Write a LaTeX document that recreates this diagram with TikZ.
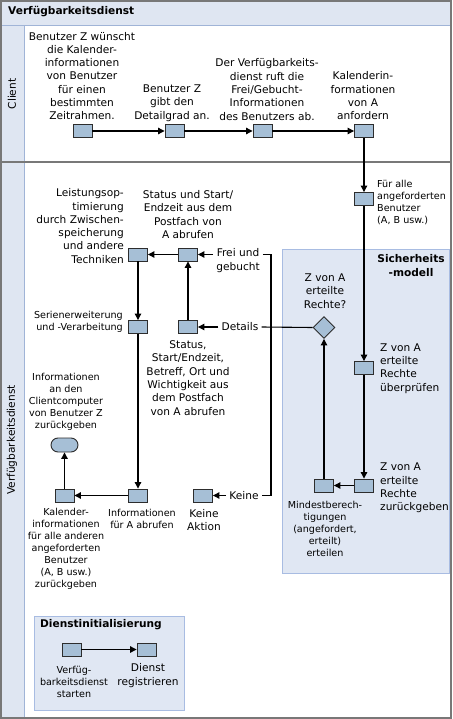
\documentclass[tikz,border=0pt]{standalone}
\usepackage{fontspec}
\setmainfont{DejaVu Sans}
\usetikzlibrary{arrows.meta,shapes.geometric}
\definecolor{lanefill}{RGB}{223,230,242}
\definecolor{lanerule}{RGB}{160,180,215}
\definecolor{framegray}{RGB}{120,120,120}
\definecolor{contfill}{RGB}{224,231,243}
\definecolor{contborder}{RGB}{168,188,226}
\definecolor{boxfill}{RGB}{166,191,214}
\definecolor{boxline}{RGB}{45,45,45}
\tikzset{
  big/.style={font=\fontsize{10.6}{13.3}\selectfont, inner sep=0pt},
  small/.style={font=\fontsize{9.6}{12}\selectfont, inner sep=0pt},
  lab/.style={big, inner xsep=3pt, inner ysep=0pt},
  act/.style={draw=boxline, fill=boxfill, line width=0.9pt, minimum width=19pt, minimum height=13pt, inner sep=0pt},
  flow/.style={line width=1.1pt, -{Triangle[length=6.5pt,width=6.5pt]}},
  plain/.style={line width=1.1pt},
  cont/.style={draw=contborder, fill=contfill, line width=0.8pt},
}
\begin{document}
\begin{tikzpicture}[x=1pt,y=-1pt]
\useasboundingbox (0,0) rectangle (452,719);
% background and lanes
\fill[white] (0,0) rectangle (452,719);
\fill[lanefill] (0,0) rectangle (452,25);
\fill[lanefill] (0,25) rectangle (24,719);
\draw[lanerule, line width=0.8pt] (0,25) -- (452,25);
\draw[lanerule, line width=0.8pt] (24,25) -- (24,719);
\draw[framegray, line width=2pt] (0,162) -- (452,162);
\draw[framegray, line width=2pt] (1,1) rectangle (451,718);
\node[big, anchor=west] (hdr) at (8,12) {\textbf{Verfügbarkeitsdienst}};
\node[big, rotate=90] (lc) at (12,94) {Client};
\node[big, rotate=90] (lv) at (12,440) {Verfügbarkeitsdienst};

% containers
\draw[cont] (282,249) rectangle (449,573);
\node[big, align=center] (secT) at (411,265.5) {\textbf{Sicherheits}\\\textbf{-modell}};
\draw[cont] (34,616) rectangle (184,710);
\node[big, anchor=west] (initT) at (40,625) {\textbf{Dienstinitialisierung}};

% client lane
\node[act] (c1) at (82.5,131) {};
\node[act] (c2) at (174.5,131) {};
\node[act] (c3) at (262.5,131) {};
\node[act] (c4) at (364,131) {};
\node[big, align=center] (t1) at (82,76) {Benutzer Z wünscht\\die Kalender-\\informationen\\von Benutzer\\für einen\\bestimmten\\Zeitrahmen.};
\node[big, align=center] (t2) at (172,103) {Benutzer Z\\gibt den\\Detailgrad an.};
\node[big, align=center] (t3) at (267,89.5) {Der Verfügbarkeits-\\dienst ruft die\\Frei/Gebucht-\\Informationen\\des Benutzers ab.};
\node[big, align=center] (t4) at (363,96) {Kalenderin-\\formationen\\von A\\anfordern};
\draw[flow] (c1) -- (c2);
\draw[flow] (c2) -- (c3);
\draw[flow] (c3) -- (c4);

% service lane
\node[act] (fa) at (364,199) {};
\node[act] (ue) at (364,368) {};
\node[act] (zr) at (364,485.5) {};
\node[act] (mi) at (324,485.5) {};
\node[diamond, draw=boxline, fill=boxfill, line width=0.9pt, minimum width=22pt, minimum height=22pt, inner sep=0pt] (dia) at (324,327.5) {};
\node[act] (st) at (188,254.5) {};
\node[act] (de) at (188,327) {};
\node[act] (le) at (138,254.5) {};
\node[act] (se) at (138,327) {};
\node[act] (inf) at (138,495.5) {};
\node[act] (kal) at (64.5,495.5) {};
\node[act] (ka) at (203,495.5) {};
\node[act, rounded corners=7pt, minimum width=27pt, minimum height=14pt] (term) at (64.5,445) {};

\node[small, align=left, anchor=west] (tfa) at (377,202) {Für alle\\angeforderten\\Benutzer\\(A, B usw.)};
\node[big, align=center] (tst) at (188,214.5) {Status und Start/\\Endzeit aus dem\\Postfach von\\A abrufen};
\node[big, align=right, anchor=east] (tle) at (124,226) {Leistungsop-\\timierung\\durch Zwischen-\\speicherung\\und andere\\Techniken};
\node[big, align=center] (tdia) at (325,291) {Z von A\\erteilte\\Rechte?};
\node[small, align=right, anchor=east] (tse) at (123,321.5) {Serienerweiterung\\und -Verarbeitung};
\node[big, align=center] (tde) at (188,378) {Status,\\Start/Endzeit,\\Betreff, Ort und\\Wichtigkeit aus\\dem Postfach\\von A abrufen};
\node[big, align=left, anchor=west] (tue) at (380,368.5) {Z von A\\erteilte\\Rechte\\überprüfen};
\node[small, align=center] (tterm) at (66,402) {Informationen\\an den\\Clientcomputer\\von Benutzer Z\\zurückgeben};
\node[big, align=left, anchor=west] (tzr) at (380,488) {Z von A\\erteilte\\Rechte\\zurückgeben};
\node[small, align=center] (tkal) at (66,549) {Kalender-\\informationen\\für alle anderen\\angeforderten\\Benutzer\\(A, B usw.)\\zurückgeben};
\node[small, align=center] (tinf) at (142,519) {Informationen\\für A abrufen};
\node[big, align=center] (tka) at (204,520) {Keine\\Aktion};
\node[small, align=center] (tmi) at (325,528.5) {Mindestberech-\\tigungen\\(angefordert,\\erteilt)\\erteilen};

\node[lab, align=center] (lfrei) at (238,260.5) {Frei und\\gebucht};
\node[lab] (ldet) at (240,327) {Details};
\node[lab] (lkeine) at (244,495.5) {Keine};

\coordinate (jt) at (271,254.5);
\coordinate (jb) at (271,495.5);

\draw[flow] (c4) -- (fa);
\draw[flow] (fa) -- (ue);
\draw[flow] (ue) -- (zr);
\draw[flow] (zr) -- (mi);
\draw[flow] (mi) -- (dia);
\draw[plain] (dia.west) -- (ldet.east);
\draw[plain] (jt -| lfrei.east) -- (jt) -- (jb) -- (jb -| lkeine.east);
\draw[flow] (lfrei.west |- st) -- (st.east);
\draw[flow] (ldet.west) -- (de.east);
\draw[flow] (lkeine.west) -- (ka.east);
\draw[flow] (de) -- (st);
\draw[flow] (st) -- (le);
\draw[flow] (le) -- (se);
\draw[flow] (se) -- (inf);
\draw[flow] (inf) -- (kal);
\draw[flow] (kal) -- (term);

% initialisation
\node[act] (i1) at (71.5,649.5) {};
\node[act] (i2) at (146.5,649.5) {};
\node[small, align=center] (ti1) at (74,681.5) {Verfüg-\\barkeitsdienst\\starten};
\node[big, align=center] (ti2) at (148,675.5) {Dienst\\registrieren};
\draw[flow] (i1) -- (i2);
\end{tikzpicture}
\end{document}
